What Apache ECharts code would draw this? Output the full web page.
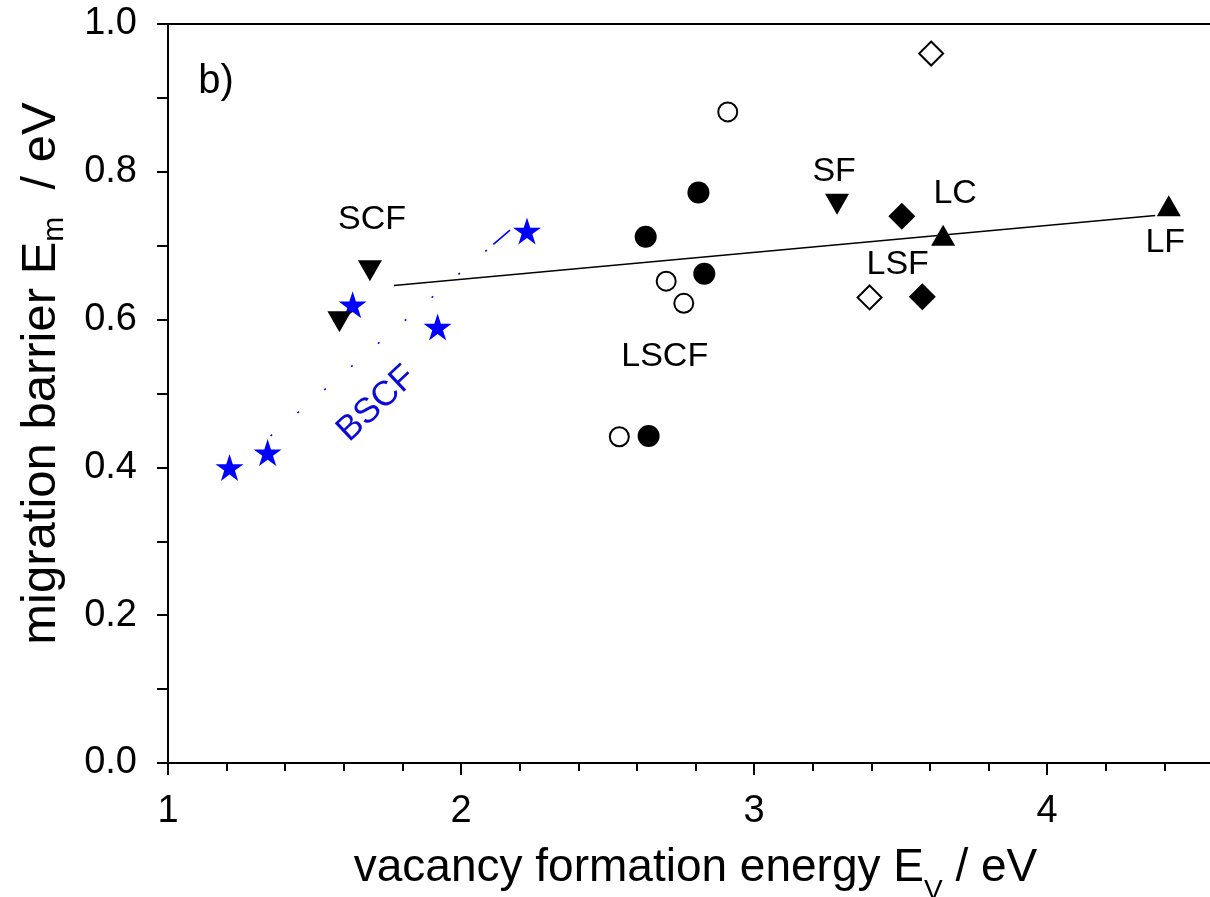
<!DOCTYPE html>
<html><head><meta charset="utf-8">
<script src="https://cdn.jsdelivr.net/npm/echarts@6/dist/echarts.min.js"></script>
<style>html,body{margin:0;padding:0;background:#fff}#c{width:1210px;height:897px}</style>
</head><body><div id="c"></div>
<script>
// ---- data ----
const xTickLabels = [1, 2, 3, 4];
const yTickLabels = [0.0, 0.2, 0.4, 0.6, 0.8, 1.0];
const bscf       = [[1.21, 0.40], [1.34, 0.42], [1.63, 0.62], [1.92, 0.59], [2.225, 0.72]];
const bscfFit    = [[1.35, 0.4425], [2.167, 0.721]];
const scf        = [[1.585, 0.597], [1.689, 0.666]];
const sf         = [[3.283, 0.756]];
const lcLf       = [[3.645, 0.714], [4.415, 0.754]];
const lscfFilled = [[2.63, 0.712], [2.81, 0.772], [2.83, 0.662], [2.64, 0.4425]];
const lscfOpen   = [[2.91, 0.881], [2.70, 0.652], [2.76, 0.622], [2.54, 0.4415]];
const lsfFilled  = [[3.504, 0.740], [3.574, 0.631]];
const lsfOpen    = [[3.604, 0.960], [3.394, 0.630]];
const fitAll     = [[1.771, 0.646], [4.369, 0.741]];
const annNames   = ['b)', 'SCF', 'SF', 'LC', 'LSF', 'LF', 'LSCF', 'BSCF'];
const annX       = [1.164, 1.696, 3.273, 3.686, 3.49, 4.403, 2.695, 1.712];
const annY       = [0.9215, 0.7355, 0.80, 0.770, 0.674, 0.704, 0.550, 0.486];

const F = '"Liberation Sans", Arial, Helvetica, sans-serif';
const STAR = 'path://M50,0 L61.2,34.5 L97.6,34.5 L68.2,55.9 L79.4,90.5 L50,69.1 L20.6,90.5 L31.8,55.9 L2.4,34.5 L38.8,34.5 Z';
const BLUE = '#0000ff';

const annStyle = {
  'b)':  {fontSize: 40},
  'BSCF': {fontSize: 35, color: '#0a0ad6', rotate: 43}
};
const annData = annNames.map((n, i) => {
  const s = annStyle[n] || {fontSize: 34};
  return {value: [annX[i], annY[i]], name: n,
    label: {show: true, position: 'inside', formatter: '{b}', fontFamily: F,
      fontSize: s.fontSize, color: s.color || '#000', rotate: s.rotate || 0}};
});

const dots = [];
for (let i = 0; i < 8; i++) dots.push(2, 33.4);
dots.push(2, 8.6, 23, 200);

const chart = echarts.init(document.getElementById('c'), null, {renderer: 'canvas'});
chart.setOption({
  animation: false,
  backgroundColor: '#fff',
  grid: {left: 168, top: 24, width: 1055, height: 739, containLabel: false, outerBoundsMode: 'none'},
  xAxis: [{
    type: 'value', min: 1, max: 4.6, interval: 1, position: 'bottom',
    axisLine: {show: true, onZero: false, lineStyle: {color: '#000', width: 2}},
    axisTick: {show: true, inside: false, length: 12, lineStyle: {color: '#000', width: 2}},
    splitLine: {show: false},
    axisLabel: {fontSize: 38, color: '#000', fontFamily: F, margin: 30,
      formatter: v => xTickLabels.indexOf(v) >= 0 ? String(v) : ''},
    name: 'vacancy formation energy E{s|V} / eV',
    nameLocation: 'middle', nameGap: 69,
    nameTextStyle: {fontSize: 46, color: '#000', fontFamily: F,
      rich: {s: {fontSize: 28, fontFamily: F, color: '#000', verticalAlign: 'top', padding: [45, 0, 0, 0]}}}
  }, {
    type: 'value', min: 1, max: 4.6, interval: 0.2, position: 'bottom',
    axisLine: {show: false, onZero: false},
    axisTick: {show: true, inside: false, length: 8, lineStyle: {color: '#000', width: 2}},
    axisLabel: {show: false}, splitLine: {show: false}
  }, {
    type: 'value', min: 1, max: 4.6, position: 'top',
    axisLine: {show: true, onZero: false, lineStyle: {color: '#000', width: 2}},
    axisTick: {show: false}, axisLabel: {show: false}, splitLine: {show: false}
  }],
  yAxis: {
    type: 'value', min: 0, max: 1, interval: 0.2,
    axisLine: {show: true, onZero: false, lineStyle: {color: '#000', width: 2}},
    axisTick: {show: true, inside: false, length: 11, lineStyle: {color: '#000', width: 2}},
    minorTick: {show: true, splitNumber: 2, length: 11, lineStyle: {color: '#000', width: 2}},
    splitLine: {show: false}, minorSplitLine: {show: false},
    axisLabel: {fontSize: 38, color: '#000', fontFamily: F, margin: 31,
      formatter: v => {
        const k = yTickLabels.findIndex(t => Math.abs(t - v) < 1e-9);
        return k >= 0 ? yTickLabels[k].toFixed(1) : '';
      }},
    name: 'migration barrier E{s|m}  / eV',
    nameLocation: 'middle', nameRotate: 90, nameGap: 98,
    nameTextStyle: {fontSize: 49, color: '#000', fontFamily: F, padding: [0, 0, 0, 40],
      rich: {s: {fontSize: 30, fontFamily: F, color: '#000', verticalAlign: 'top', padding: [27, 0, 0, 0]}}}
  },
  series: [
    {type: 'line', data: fitAll, symbol: 'none', z: 2,
      lineStyle: {color: '#000', width: 1.5}},
    {type: 'line', data: bscfFit, symbol: 'none', z: 2,
      lineStyle: {color: BLUE, width: 1.6, type: dots}},
    {type: 'scatter', data: bscf, symbol: STAR, symbolSize: [28, 27], z: 3,
      itemStyle: {color: BLUE, opacity: 1}},
    {type: 'scatter', data: scf, symbol: 'triangle', symbolRotate: 180, symbolSize: [24, 21], z: 3,
      itemStyle: {color: '#000', opacity: 1}},
    {type: 'scatter', data: sf, symbol: 'triangle', symbolRotate: 180, symbolSize: [24, 21], z: 3,
      itemStyle: {color: '#000', opacity: 1}},
    {type: 'scatter', data: lcLf, symbol: 'triangle', symbolSize: [24, 21], z: 3,
      itemStyle: {color: '#000', opacity: 1}},
    {type: 'scatter', data: lscfFilled, symbol: 'circle', symbolSize: 22, z: 3,
      itemStyle: {color: '#000', opacity: 1}},
    {type: 'scatter', data: lscfOpen, symbol: 'circle', symbolSize: 19, z: 3,
      itemStyle: {color: '#fff', borderColor: '#000', borderWidth: 2, opacity: 1}},
    {type: 'scatter', data: lsfFilled, symbol: 'diamond', symbolSize: 27, z: 3,
      itemStyle: {color: '#000', opacity: 1}},
    {type: 'scatter', data: lsfOpen, symbol: 'diamond', symbolSize: 24, z: 3,
      itemStyle: {color: '#fff', borderColor: '#000', borderWidth: 2, opacity: 1}},
    {type: 'scatter', data: annData, symbol: 'circle', symbolSize: 1, z: 4,
      itemStyle: {color: 'rgba(0,0,0,0)', opacity: 1}, silent: true}
  ]
});
</script></body></html>
